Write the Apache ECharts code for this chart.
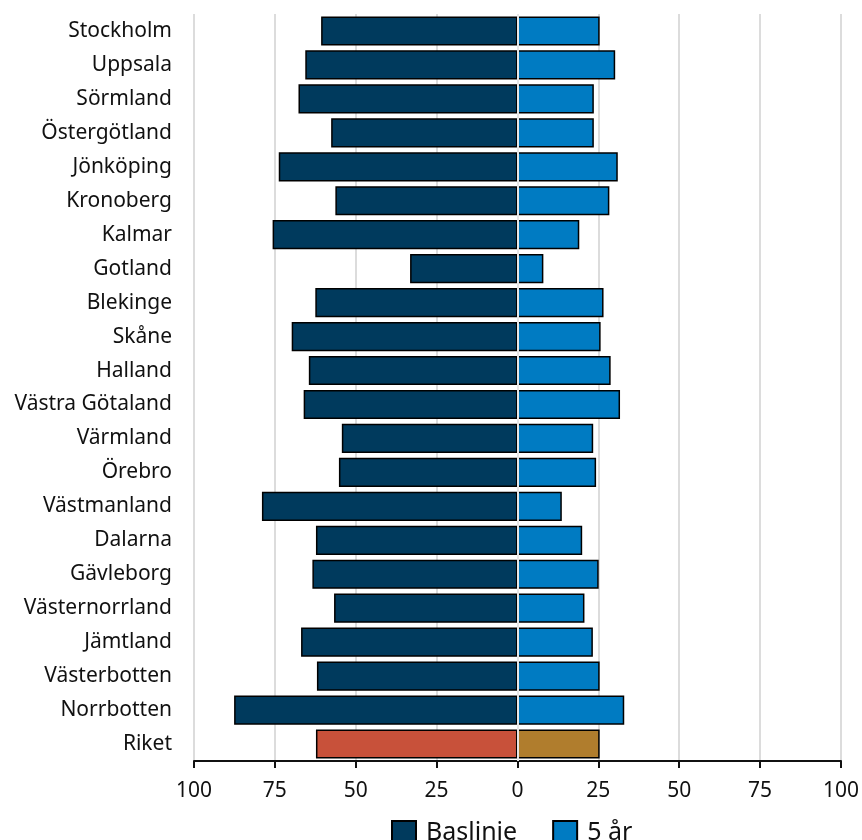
<!DOCTYPE html>
<html><head><meta charset="utf-8">
<script src="https://cdn.jsdelivr.net/npm/echarts@6/dist/echarts.min.js"></script>
<style>html,body{margin:0;padding:0;background:#fff}#c{width:862px;height:840px}</style>
</head><body><div id="c"></div>
<script>
const categories = ["Stockholm","Uppsala","Sörmland","Östergötland","Jönköping","Kronoberg","Kalmar","Gotland","Blekinge","Skåne","Halland","Västra Götaland","Värmland","Örebro","Västmanland","Dalarna","Gävleborg","Västernorrland","Jämtland","Västerbotten","Norrbotten","Riket"];
const baslinje = [60.7,65.6,67.7,57.6,73.8,56.3,75.7,33.2,62.5,69.8,64.5,66.1,54.3,55.2,79.0,62.3,63.4,56.7,66.9,62.0,87.6,62.3];
const femAr = [25.4,30.2,23.6,23.6,31.0,28.4,19.1,8.0,26.6,25.7,28.8,31.7,23.4,24.3,13.7,20.0,25.1,20.7,23.3,25.4,33.0,25.4];

const NAVY = '#003A5D', BLUE = '#007BC2', RED = '#C8513A', GOLD = '#B07D2D';
const font = 'Noto Sans';
const chart = echarts.init(document.getElementById('c'), null, {renderer:'canvas'});
const mk = (vals, sign, rikCol) => vals.map((v, i) => categories[i] === 'Riket'
  ? {value: sign * v, itemStyle: {color: rikCol}} : sign * v);
chart.setOption({
  animation: false,
  textStyle: {fontFamily: font},
  grid: {left: 194, right: 18, top: 14, bottom: 79, containLabel: false},
  legend: {
    top: 815, left: 386, itemWidth: 24, itemHeight: 24, itemGap: 35,
    icon: 'rect',
    textStyle: {fontSize: 25, color: '#111', fontFamily: font, padding: [0, 0, 0, 5]},
    data: ['Baslinje', '5 år']
  },
  xAxis: {
    type: 'value', min: -100, max: 100, interval: 25,
    axisLine: {show: true, lineStyle: {color: '#111', width: 2}},
    axisTick: {show: true, length: 7, lineStyle: {color: '#111', width: 2}},
    axisLabel: {fontSize: 21, color: '#111', margin: 20, fontFamily: font,
      formatter: v => String(Math.abs(v))},
    splitLine: {show: true, lineStyle: {color: '#DCDCDC', width: 2}}
  },
  yAxis: {
    type: 'category', data: categories, inverse: true,
    axisLine: {show: false}, axisTick: {show: false},
    axisLabel: {fontSize: 21, color: '#111', margin: 22, fontFamily: font}
  },
  series: [
    {name: 'Baslinje', type: 'bar', stack: 'tot', barCategoryGap: '14%',
     itemStyle: {color: NAVY, borderColor: '#000', borderWidth: 1.5},
     data: mk(baslinje, -1, RED)},
    {name: '5 år', type: 'bar', stack: 'tot', barCategoryGap: '14%',
     itemStyle: {color: BLUE, borderColor: '#000', borderWidth: 1.5},
     data: mk(femAr, 1, GOLD)},
    {name: 'zero', type: 'line', data: [], z: 10, silent: true,
     markLine: {silent: true, symbol: 'none', label: {show: false},
       lineStyle: {color: '#E6E6E6', width: 2, type: 'solid'},
       data: [{xAxis: 0}]}}
  ]
});
</script></body></html>
